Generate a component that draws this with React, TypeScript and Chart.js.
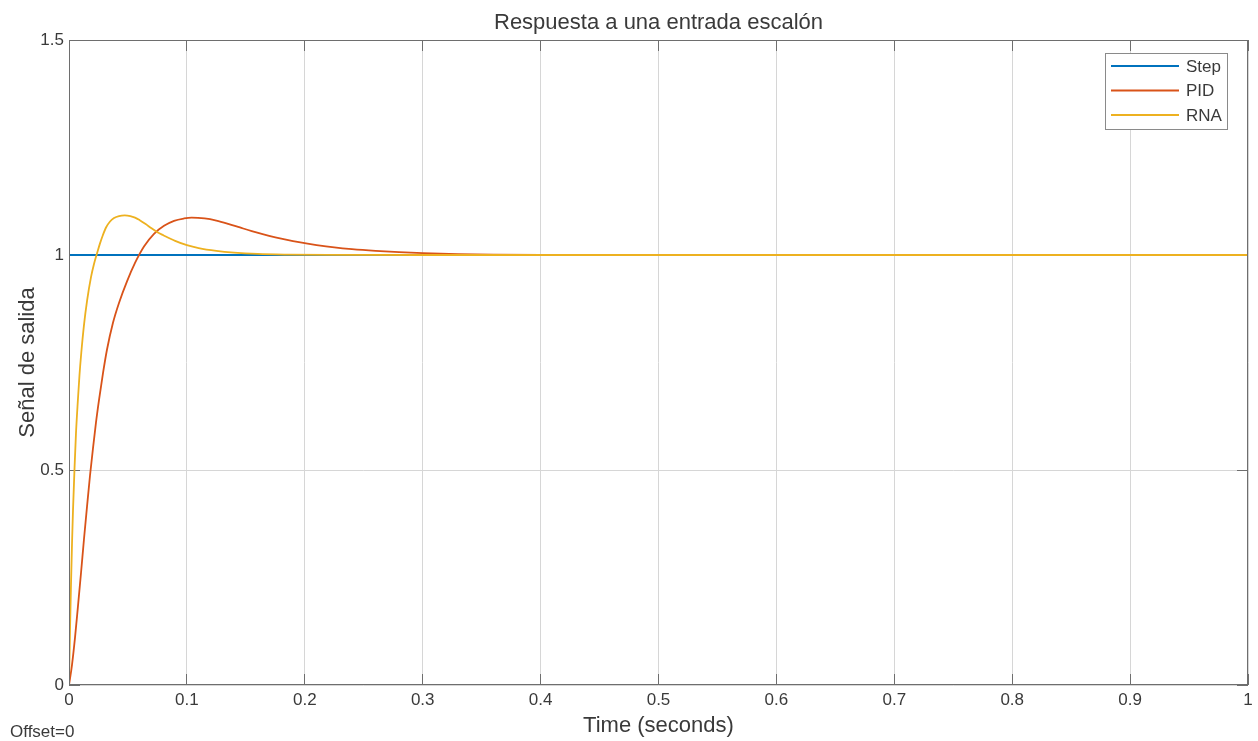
import React, { useEffect, useRef } from "react";
import { Chart, registerables } from "chart.js";

Chart.register(...registerables);

// ---- Data ----
const xTicks = [0, 0.1, 0.2, 0.3, 0.4, 0.5, 0.6, 0.7, 0.8, 0.9, 1];
const xTickLabels = ["0", "0.1", "0.2", "0.3", "0.4", "0.5", "0.6", "0.7", "0.8", "0.9", "1"];
const yTicks = [0, 0.5, 1, 1.5];
const yTickLabels = ["0", "0.5", "1", "1.5"];

const seriesNames = ["Step", "PID", "RNA"];
const seriesColors = ["#0072BD", "#D95319", "#EDB120"];

const stepTime = [0, 0, 1];
const stepValues = [0, 1, 1];

const pidTime = [
  0, 0.00255, 0.0051, 0.0076, 0.0102, 0.0127, 0.0153, 0.0178, 0.0204, 0.0229,
  0.0255, 0.0289, 0.0322, 0.0373, 0.0424, 0.0492, 0.056, 0.0636, 0.0721, 0.0806,
  0.0891, 0.0976, 0.104, 0.115, 0.125, 0.135, 0.145, 0.155, 0.165, 0.175,
  0.185, 0.195, 0.21, 0.225, 0.24, 0.26, 0.28, 0.3, 0.33, 0.36,
  0.4, 0.45, 0.5, 1.0,
];
const pidValues = [
  0, 0.047, 0.11, 0.183, 0.261, 0.339, 0.4155, 0.4866, 0.5519, 0.6108,
  0.6638, 0.7262, 0.7797, 0.8424, 0.8885, 0.9387, 0.9815, 1.0197, 1.0493, 1.0679,
  1.0795, 1.085, 1.087, 1.0851, 1.0801, 1.0726, 1.064, 1.0555, 1.0477, 1.0409,
  1.0349, 1.0297, 1.0231, 1.0176, 1.0135, 1.0095, 1.0065, 1.0042, 1.0022, 1.0011,
  1.0004, 1.0001, 1.0, 1.0,
];

const rnaTime = [
  0, 0.00085, 0.0017, 0.00255, 0.0034, 0.0047, 0.0059, 0.0075, 0.0089, 0.0104,
  0.0127, 0.0154, 0.0187, 0.0212, 0.0239, 0.0263, 0.0287, 0.0314, 0.0348, 0.0382,
  0.0424, 0.0473, 0.052, 0.056, 0.06, 0.065, 0.07, 0.075, 0.08, 0.09,
  0.1, 0.11, 0.125, 0.14, 0.16, 0.185, 0.22, 0.3, 1.0,
];
const rnaValues = [
  0, 0.126, 0.235, 0.328, 0.407, 0.505, 0.584, 0.661, 0.721, 0.772,
  0.837, 0.895, 0.949, 0.979, 1.005, 1.027, 1.046, 1.064, 1.078, 1.086,
  1.0905, 1.092, 1.0905, 1.087, 1.081, 1.072, 1.062, 1.053, 1.046, 1.033,
  1.023, 1.016, 1.0095, 1.0055, 1.0025, 1.001, 1.0002, 1.0, 1.0,
];

const titleText = "Respuesta a una entrada escalón";
const xLabel = "Time (seconds)";
const yLabel = "Señal de salida";
const offsetText = "Offset=0";

const FONT = '"Liberation Sans", Arial, Helvetica, sans-serif';
const TEXT = "#3a3a3a";

function pts(xs: number[], ys: number[]) {
  return xs.map((x, i) => ({ x, y: ys[i] }));
}

const align = (p: number) => Math.round(p - 0.5) + 0.5;

const overlay = {
  id: "overlay",
  beforeDatasetsDraw(chart: any) {
    const { ctx, chartArea } = chart;
    const { left, right, top, bottom } = chartArea;
    const xs = chart.scales.x;
    const ys = chart.scales.y;
    const tl = 11;
    ctx.save();
    ctx.strokeStyle = "#6e6e6e";
    ctx.lineWidth = 1;
    ctx.beginPath();
    xTicks.forEach((v) => {
      const px = align(xs.getPixelForValue(v));
      ctx.moveTo(px, top);
      ctx.lineTo(px, top + tl);
      ctx.moveTo(px, bottom);
      ctx.lineTo(px, bottom - tl);
    });
    yTicks.forEach((v) => {
      const py = align(ys.getPixelForValue(v));
      ctx.moveTo(left, py);
      ctx.lineTo(left + tl, py);
      ctx.moveTo(right, py);
      ctx.lineTo(right - tl, py);
    });
    ctx.stroke();
    ctx.restore();
  },
  afterDraw(chart: any) {
    const { ctx, chartArea } = chart;
    const { left, right, top, bottom } = chartArea;
    ctx.save();
    // box
    ctx.strokeStyle = "#6e6e6e";
    ctx.lineWidth = 1;
    ctx.strokeRect(Math.round(left) + 0.5, Math.round(top) + 0.5, Math.round(right - left) - 1, Math.round(bottom - top) - 1);

    // title
    ctx.fillStyle = TEXT;
    ctx.font = `22px ${FONT}`;
    ctx.textAlign = "center";
    ctx.textBaseline = "middle";
    const cx = (left + right) / 2;
    ctx.fillText(titleText, cx, 23);
    // x label
    ctx.fillText(xLabel, cx, 726);
    // y label
    ctx.save();
    ctx.translate(28, (top + bottom) / 2);
    ctx.rotate(-Math.PI / 2);
    ctx.fillText(yLabel, 0, 0);
    ctx.restore();

    // offset
    ctx.font = `17px ${FONT}`;
    ctx.textAlign = "left";
    ctx.fillText(offsetText, 10, 732);

    // legend
    const lx = 1105, ly = 53, lw = 122, lh = 76;
    ctx.fillStyle = "#ffffff";
    ctx.fillRect(lx, ly, lw, lh);
    ctx.strokeStyle = "#8a8a8a";
    ctx.lineWidth = 1;
    ctx.strokeRect(lx + 0.5, ly + 0.5, lw, lh);
    seriesNames.forEach((name, i) => {
      const yy = 66 + i * 24.5;
      ctx.strokeStyle = seriesColors[i];
      ctx.lineWidth = 2;
      ctx.beginPath();
      ctx.moveTo(1111, yy);
      ctx.lineTo(1179, yy);
      ctx.stroke();
      ctx.fillStyle = TEXT;
      ctx.font = `17px ${FONT}`;
      ctx.textAlign = "left";
      ctx.textBaseline = "middle";
      ctx.fillText(name, 1186, yy + 1);
    });
    ctx.restore();
  },
};

export default function App() {
  const ref = useRef<HTMLCanvasElement | null>(null);
  useEffect(() => {
    document.body.style.margin = "0";
    const canvas = ref.current;
    if (!canvas) return;
    const chart = new Chart(canvas, {
      type: "line",
      data: {
        datasets: [
          {
            label: seriesNames[0],
            data: pts(stepTime, stepValues),
            borderColor: seriesColors[0],
            borderWidth: 1.8,
            pointRadius: 0,
            tension: 0,
            order: 3,
          },
          {
            label: seriesNames[1],
            data: pts(pidTime, pidValues),
            borderColor: seriesColors[1],
            borderWidth: 1.8,
            pointRadius: 0,
            cubicInterpolationMode: "monotone",
            order: 2,
          },
          {
            label: seriesNames[2],
            data: pts(rnaTime, rnaValues),
            borderColor: seriesColors[2],
            borderWidth: 1.8,
            pointRadius: 0,
            cubicInterpolationMode: "monotone",
            order: 1,
          },
        ],
      },
      options: {
        animation: false,
        responsive: true,
        maintainAspectRatio: false,
        layout: { padding: { top: 40, right: 10, left: 0, bottom: 0 } },
        plugins: {
          legend: { display: false },
          tooltip: { enabled: false },
          title: { display: false },
        },
        scales: {
          x: {
            type: "linear",
            min: 0,
            max: 1,
            afterFit: (s: any) => {
              s.height = 56;
            },
            afterBuildTicks: (s: any) => {
              s.ticks = xTicks.map((v) => ({ value: v }));
            },
            ticks: {
              callback: (v: any) => {
                const i = xTicks.findIndex((t) => Math.abs(t - Number(v)) < 1e-9);
                return i >= 0 ? xTickLabels[i] : "";
              },
              maxRotation: 0,
              autoSkip: false,
              padding: 5,
              color: TEXT,
              font: { family: FONT, size: 17 },
            },
            grid: { color: "#d6d6d6", lineWidth: 1, drawTicks: false },
            border: { display: false },
          },
          y: {
            type: "linear",
            min: 0,
            max: 1.5,
            afterFit: (s: any) => {
              s.width = 69;
            },
            afterBuildTicks: (s: any) => {
              s.ticks = yTicks.map((v) => ({ value: v }));
            },
            ticks: {
              callback: (v: any) => {
                const i = yTicks.findIndex((t) => Math.abs(t - Number(v)) < 1e-9);
                return i >= 0 ? yTickLabels[i] : "";
              },
              padding: 5,
              color: TEXT,
              font: { family: FONT, size: 17 },
            },
            grid: { color: "#d6d6d6", lineWidth: 1, drawTicks: false },
            border: { display: false },
          },
        },
      },
      plugins: [overlay],
    } as any);
    return () => chart.destroy();
  }, []);
  return (
    <div style={{ width: 1258, height: 741, position: "relative", background: "#fff" }}>
      <canvas ref={ref} />
    </div>
  );
}
